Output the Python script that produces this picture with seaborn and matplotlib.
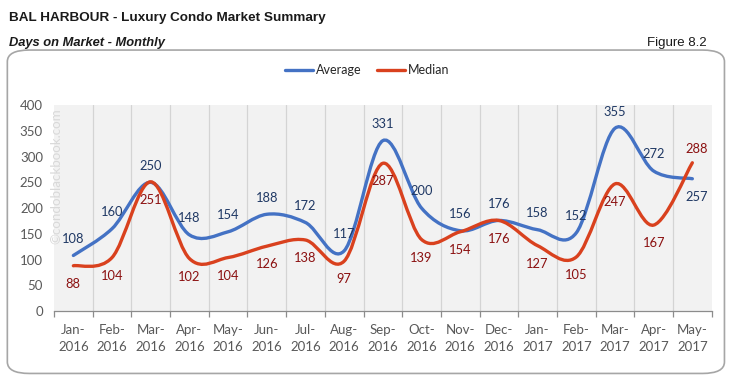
import numpy as np
import seaborn as sns
import matplotlib.pyplot as plt
from matplotlib.path import Path
from matplotlib.patches import PathPatch, FancyBboxPatch
from matplotlib.lines import Line2D

# Days on market, Bal Harbour luxury condos
months = ["Jan-\n2016", "Feb-\n2016", "Mar-\n2016", "Apr-\n2016", "May-\n2016", "Jun-\n2016",
          "Jul-\n2016", "Aug-\n2016", "Sep-\n2016", "Oct-\n2016", "Nov-\n2016", "Dec-\n2016",
          "Jan-\n2017", "Feb-\n2017", "Mar-\n2017", "Apr-\n2017", "May-\n2017"]
average = [108, 160, 250, 148, 154, 188, 172, 117, 331, 200, 156, 176, 158, 152, 355, 272, 257]
median = [88, 104, 251, 102, 104, 126, 138, 97, 287, 139, 154, 176, 127, 105, 247, 167, 288]
yticks = [0, 50, 100, 150, 200, 250, 300, 350, 400]

avg_color = "#4472c4"
med_color = "#d9411e"
avg_text = "#1f3864"
med_text = "#8b1010"


def smooth_path(xs, ys):
    """Excel-like smoothed line: Catmull-Rom segments as cubic Bezier curves."""
    pts = np.column_stack([xs, ys]).astype(float)
    padded = np.vstack([pts[0], pts, pts[-1]])
    verts = [pts[0]]
    codes = [Path.MOVETO]
    for i in range(len(pts) - 1):
        p0, p1, p2, p3 = padded[i], padded[i + 1], padded[i + 2], padded[i + 3]
        verts += [p1 + (p2 - p0) / 6, p2 - (p3 - p1) / 6, p2]
        codes += [Path.CURVE4] * 3
    return Path(verts, codes)


sns.set_theme(style="white")
plt.rcParams["font.family"] = ["Lato", "DejaVu Sans"]

fig = plt.figure(figsize=(7.34, 3.85), dpi=100)
ax = fig.add_axes([0.0736, 0.192, 0.896, 0.535])

# rounded chart frame
frame = FancyBboxPatch((0.010, 0.030), 0.977, 0.84, transform=fig.transFigure,
                       boxstyle="round,pad=0,rounding_size=0.03", facecolor="white",
                       edgecolor="#a6a6a6", linewidth=1.2, zorder=-5)
fig.patches.append(frame)

ax.set_facecolor("#f2f2f2")
x = np.arange(len(months))
for vals, col in [(average, avg_color), (median, med_color)]:
    ax.add_patch(PathPatch(smooth_path(x, vals), facecolor="none", edgecolor=col,
                           linewidth=2.4, capstyle="round", zorder=3))

# category boundaries
for b in np.arange(0.5, len(months) - 1, 1):
    ax.axvline(b, color="#d4d4d4", linewidth=0.9, zorder=1)

# data labels
for i in range(len(months)):
    a_off = -13 if i == len(months) - 1 else 12
    m_off = 10 if i == len(months) - 1 else -13
    dx = 3 if i == len(months) - 1 else 0
    ax.annotate(str(average[i]), (i, average[i]), xytext=(dx, a_off), textcoords="offset points",
                ha="center", va="center", fontsize=9.3, color=avg_text, zorder=4)
    ax.annotate(str(median[i]), (i, median[i]), xytext=(dx, m_off), textcoords="offset points",
                ha="center", va="center", fontsize=9.3, color=med_text, zorder=4)

ax.set_xlim(-0.5, len(months) - 0.5)
ax.set_ylim(0, 400)
ax.set_yticks(yticks)
ax.set_xticks(np.arange(-0.5, len(months), 1), minor=False)
ax.set_xticklabels([])
ax.set_xticks(x, minor=True)
ax.set_xticklabels(months, minor=True, fontsize=9.5, color="#595959", linespacing=1.5)
ax.tick_params(axis="x", which="major", direction="out", length=4, width=0.9, color="#8c8c8c", bottom=True)
ax.tick_params(axis="x", which="minor", length=0, pad=9)
ax.tick_params(axis="y", length=0, labelsize=9.5, labelcolor="#595959", pad=8)
for s in ["top", "right", "left"]:
    ax.spines[s].set_visible(False)
ax.spines["bottom"].set_color("#8c8c8c")
ax.spines["bottom"].set_linewidth(0.9)

# watermark
ax.text(-0.006, 0.985, "\u00a9condoblackbook.com", transform=ax.transAxes, rotation=90,
        ha="left", va="top", fontsize=9.6, color="#d9d9d9", zorder=2)

handles = [Line2D([], [], color=avg_color, linewidth=2.4),
           Line2D([], [], color=med_color, linewidth=2.4)]
fig.legend(handles, ["Average", "Median"], loc="center", bbox_to_anchor=(0.5, 0.818),
           ncol=2, frameon=False, fontsize=9, handlelength=2.3, handletextpad=0.2,
           columnspacing=1.2, labelcolor="#262626")

fig.text(0.012, 0.953, "BAL HARBOUR - Luxury Condo Market Summary", fontsize=9.7,
         fontweight="bold", family="Liberation Sans", color="#1a1a1a", va="center")
fig.text(0.012, 0.888, "Days on Market - Monthly", fontsize=9.3, fontweight="bold",
         fontstyle="italic", family="Liberation Sans", color="#1a1a1a", va="center")
fig.text(0.963, 0.888, "Figure 8.2", fontsize=9.5, family="Liberation Sans",
         color="#1a1a1a", ha="right", va="center")

fig.savefig("out.png", dpi=100)
